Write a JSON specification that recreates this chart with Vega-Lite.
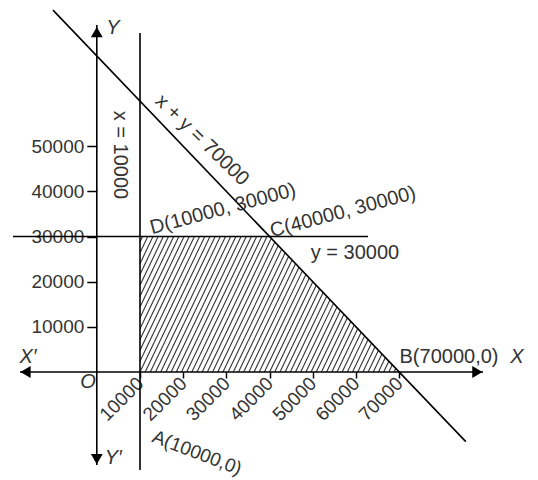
{
  "$schema": "https://vega.github.io/schema/vega-lite/v6.json",
  "width": 538,
  "height": 480,
  "autosize": {"type": "none"},
  "padding": 0,
  "background": "white",
  "config": {"view": {"stroke": null}, "font": "Liberation Sans"},
  "datasets": {
    "hatch": [
      {"x": 10000, "y": 28800, "x2": 10600, "y2": 30000},
      {"x": 10000, "y": 26400, "x2": 11800, "y2": 30000},
      {"x": 10000, "y": 24000, "x2": 13000, "y2": 30000},
      {"x": 10000, "y": 21600, "x2": 14200, "y2": 30000},
      {"x": 10000, "y": 19200, "x2": 15400, "y2": 30000},
      {"x": 10000, "y": 16800, "x2": 16600, "y2": 30000},
      {"x": 10000, "y": 14400, "x2": 17800, "y2": 30000},
      {"x": 10000, "y": 12000, "x2": 19000, "y2": 30000},
      {"x": 10000, "y": 9600, "x2": 20200, "y2": 30000},
      {"x": 10000, "y": 7200, "x2": 21400, "y2": 30000},
      {"x": 10000, "y": 4800, "x2": 22600, "y2": 30000},
      {"x": 10000, "y": 2400, "x2": 23800, "y2": 30000},
      {"x": 10000, "y": 0, "x2": 25000, "y2": 30000},
      {"x": 11200, "y": 0, "x2": 26200, "y2": 30000},
      {"x": 12400, "y": 0, "x2": 27400, "y2": 30000},
      {"x": 13600, "y": 0, "x2": 28600, "y2": 30000},
      {"x": 14800, "y": 0, "x2": 29800, "y2": 30000},
      {"x": 16000, "y": 0, "x2": 31000, "y2": 30000},
      {"x": 17200, "y": 0, "x2": 32200, "y2": 30000},
      {"x": 18400, "y": 0, "x2": 33400, "y2": 30000},
      {"x": 19600, "y": 0, "x2": 34600, "y2": 30000},
      {"x": 20800, "y": 0, "x2": 35800, "y2": 30000},
      {"x": 22000, "y": 0, "x2": 37000, "y2": 30000},
      {"x": 23200, "y": 0, "x2": 38200, "y2": 30000},
      {"x": 24400, "y": 0, "x2": 39400, "y2": 30000},
      {"x": 25600, "y": 0, "x2": 40400, "y2": 29600},
      {"x": 26800, "y": 0, "x2": 41200, "y2": 28800},
      {"x": 28000, "y": 0, "x2": 42000, "y2": 28000},
      {"x": 29200, "y": 0, "x2": 42800, "y2": 27200},
      {"x": 30400, "y": 0, "x2": 43600, "y2": 26400},
      {"x": 31600, "y": 0, "x2": 44400, "y2": 25600},
      {"x": 32800, "y": 0, "x2": 45200, "y2": 24800},
      {"x": 34000, "y": 0, "x2": 46000, "y2": 24000},
      {"x": 35200, "y": 0, "x2": 46800, "y2": 23200},
      {"x": 36400, "y": 0, "x2": 47600, "y2": 22400},
      {"x": 37600, "y": 0, "x2": 48400, "y2": 21600},
      {"x": 38800, "y": 0, "x2": 49200, "y2": 20800},
      {"x": 40000, "y": 0, "x2": 50000, "y2": 20000},
      {"x": 41200, "y": 0, "x2": 50800, "y2": 19200},
      {"x": 42400, "y": 0, "x2": 51600, "y2": 18400},
      {"x": 43600, "y": 0, "x2": 52400, "y2": 17600},
      {"x": 44800, "y": 0, "x2": 53200, "y2": 16800},
      {"x": 46000, "y": 0, "x2": 54000, "y2": 16000},
      {"x": 47200, "y": 0, "x2": 54800, "y2": 15200},
      {"x": 48400, "y": 0, "x2": 55600, "y2": 14400},
      {"x": 49600, "y": 0, "x2": 56400, "y2": 13600},
      {"x": 50800, "y": 0, "x2": 57200, "y2": 12800},
      {"x": 52000, "y": 0, "x2": 58000, "y2": 12000},
      {"x": 53200, "y": 0, "x2": 58800, "y2": 11200},
      {"x": 54400, "y": 0, "x2": 59600, "y2": 10400},
      {"x": 55600, "y": 0, "x2": 60400, "y2": 9600},
      {"x": 56800, "y": 0, "x2": 61200, "y2": 8800},
      {"x": 58000, "y": 0, "x2": 62000, "y2": 8000},
      {"x": 59200, "y": 0, "x2": 62800, "y2": 7200},
      {"x": 60400, "y": 0, "x2": 63600, "y2": 6400},
      {"x": 61600, "y": 0, "x2": 64400, "y2": 5600},
      {"x": 62800, "y": 0, "x2": 65200, "y2": 4800},
      {"x": 64000, "y": 0, "x2": 66000, "y2": 4000},
      {"x": 65200, "y": 0, "x2": 66800, "y2": 3200},
      {"x": 66400, "y": 0, "x2": 67600, "y2": 2400},
      {"x": 67600, "y": 0, "x2": 68400, "y2": 1600},
      {"x": 68800, "y": 0, "x2": 69200, "y2": 800}
    ],
    "lines": [
      {"name": "Y axis", "x": 0, "y": 76855, "x2": 0, "y2": -20598},
      {"name": "X axis", "x": -17778, "y": 0, "x2": 89398, "y2": 0},
      {"name": "x = 10000", "x": 10000, "y": 75083, "x2": 10000, "y2": -21705},
      {"name": "y = 30000", "x": -19398, "y": 30000, "x2": 62778, "y2": 30000},
      {"name": "x + y = 70000", "x": -10139, "y": 80139, "x2": 85417, "y2": -15417}
    ],
    "arrows": [
      {"dir": "up", "x": 0, "y": 75300},
      {"dir": "down", "x": 0, "y": -19300},
      {"dir": "left", "x": -16500, "y": 0},
      {"dir": "right", "x": 88100, "y": 0}
    ]
  },
  "layer": [
    {
      "data": {"name": "hatch"},
      "mark": {"type": "rule", "stroke": "#333333", "strokeWidth": 1.1},
      "encoding": {
        "x": {
          "field": "x", "type": "quantitative",
          "scale": {"domain": [-22407, 102130], "nice": false, "zero": false},
          "axis": {
            "orient": "bottom", "offset": -108, "title": null,
            "values": [10000, 20000, 30000, 40000, 50000, 60000, 70000],
            "format": "d", "domain": false, "grid": false,
            "ticks": true, "tickSize": 6, "tickColor": "black", "tickWidth": 1.5,
            "labelAngle": -45, "labelAlign": "right", "labelBaseline": "middle",
            "labelFontSize": 19, "labelColor": "#333333", "labelFont": "Liberation Sans",
            "labelPadding": 2, "labelFlush": false, "labelOverlap": false
          }
        },
        "y": {
          "field": "y", "type": "quantitative",
          "scale": {"domain": [-23920, 82392], "nice": false, "zero": false},
          "axis": {
            "orient": "left", "offset": -96.8, "title": null,
            "values": [10000, 20000, 30000, 40000, 50000],
            "format": "d", "domain": false, "grid": false,
            "ticks": true, "tickSize": 10, "tickColor": "black", "tickWidth": 1.5,
            "labelFontSize": 19, "labelColor": "#333333", "labelFont": "Liberation Sans",
            "labelPadding": 3, "labelFlush": false, "labelOverlap": false
          }
        },
        "x2": {"field": "x2"},
        "y2": {"field": "y2"}
      }
    },
    {
      "data": {"name": "lines"},
      "mark": {"type": "rule", "stroke": "black", "strokeWidth": 1.6},
      "encoding": {
        "x": {"field": "x", "type": "quantitative"},
        "y": {"field": "y", "type": "quantitative"},
        "x2": {"field": "x2"},
        "y2": {"field": "y2"}
      }
    },
    {
      "data": {"name": "arrows"},
      "mark": {"type": "point", "filled": true, "color": "black", "opacity": 1, "size": 140},
      "encoding": {
        "x": {"field": "x", "type": "quantitative"},
        "y": {"field": "y", "type": "quantitative"},
        "shape": {
          "field": "dir", "type": "nominal", "legend": null,
          "scale": {"domain": ["up", "down", "left", "right"], "range": ["triangle-up", "triangle-down", "triangle-left", "triangle-right"]}
        }
      }
    },
    {
      "data": {"values": [
        {"x": 3750, "y": 76190, "label": "Y"},
        {"x": 3820, "y": -19114, "label": "Y′"},
        {"x": -15926, "y": 3322, "label": "X′"},
        {"x": 97269, "y": 3322, "label": "X"},
        {"x": -2037, "y": -2215, "label": "O"}
      ]},
      "mark": {"type": "text", "fontSize": 20, "fontStyle": "italic", "color": "#333333", "align": "center", "baseline": "middle"},
      "encoding": {
        "x": {"field": "x", "type": "quantitative"},
        "y": {"field": "y", "type": "quantitative"},
        "text": {"field": "label"}
      }
    },
    {
      "data": {"values": [
        {"x": 59769, "y": 26357, "label": "y = 30000"},
        {"x": 81528, "y": 3322, "label": "B(70000,0)"}
      ]},
      "mark": {"type": "text", "fontSize": 20, "color": "#333333", "align": "center", "baseline": "middle"},
      "encoding": {
        "x": {"field": "x", "type": "quantitative"},
        "y": {"field": "y", "type": "quantitative"},
        "text": {"field": "label"}
      }
    },
    {
      "data": {"values": [{"x": 5370, "y": 48062, "label": "x = 10000"}]},
      "mark": {"type": "text", "fontSize": 20, "angle": 90, "color": "#333333", "align": "center", "baseline": "middle"},
      "encoding": {
        "x": {"field": "x", "type": "quantitative"},
        "y": {"field": "y", "type": "quantitative"},
        "text": {"field": "label"}
      }
    },
    {
      "data": {"values": [{"x": 24352, "y": 51384, "label": "x + y = 70000"}]},
      "mark": {"type": "text", "fontSize": 20, "angle": 44, "color": "#333333", "align": "center", "baseline": "middle"},
      "encoding": {
        "x": {"field": "x", "type": "quantitative"},
        "y": {"field": "y", "type": "quantitative"},
        "text": {"field": "label"}
      }
    },
    {
      "data": {"values": [
        {"x": 29213, "y": 36102, "label": "D(10000, 30000)"},
        {"x": 56991, "y": 35437, "label": "C(40000, 30000)"}
      ]},
      "mark": {"type": "text", "fontSize": 20, "angle": -15, "color": "#333333", "align": "center", "baseline": "middle"},
      "encoding": {
        "x": {"field": "x", "type": "quantitative"},
        "y": {"field": "y", "type": "quantitative"},
        "text": {"field": "label"}
      }
    },
    {
      "data": {"values": [{"x": 23194, "y": -17900, "label": "A(10000,0)"}]},
      "mark": {"type": "text", "fontSize": 19, "angle": 21, "color": "#333333", "align": "center", "baseline": "middle"},
      "encoding": {
        "x": {"field": "x", "type": "quantitative"},
        "y": {"field": "y", "type": "quantitative"},
        "text": {"field": "label"}
      }
    }
  ]
}
